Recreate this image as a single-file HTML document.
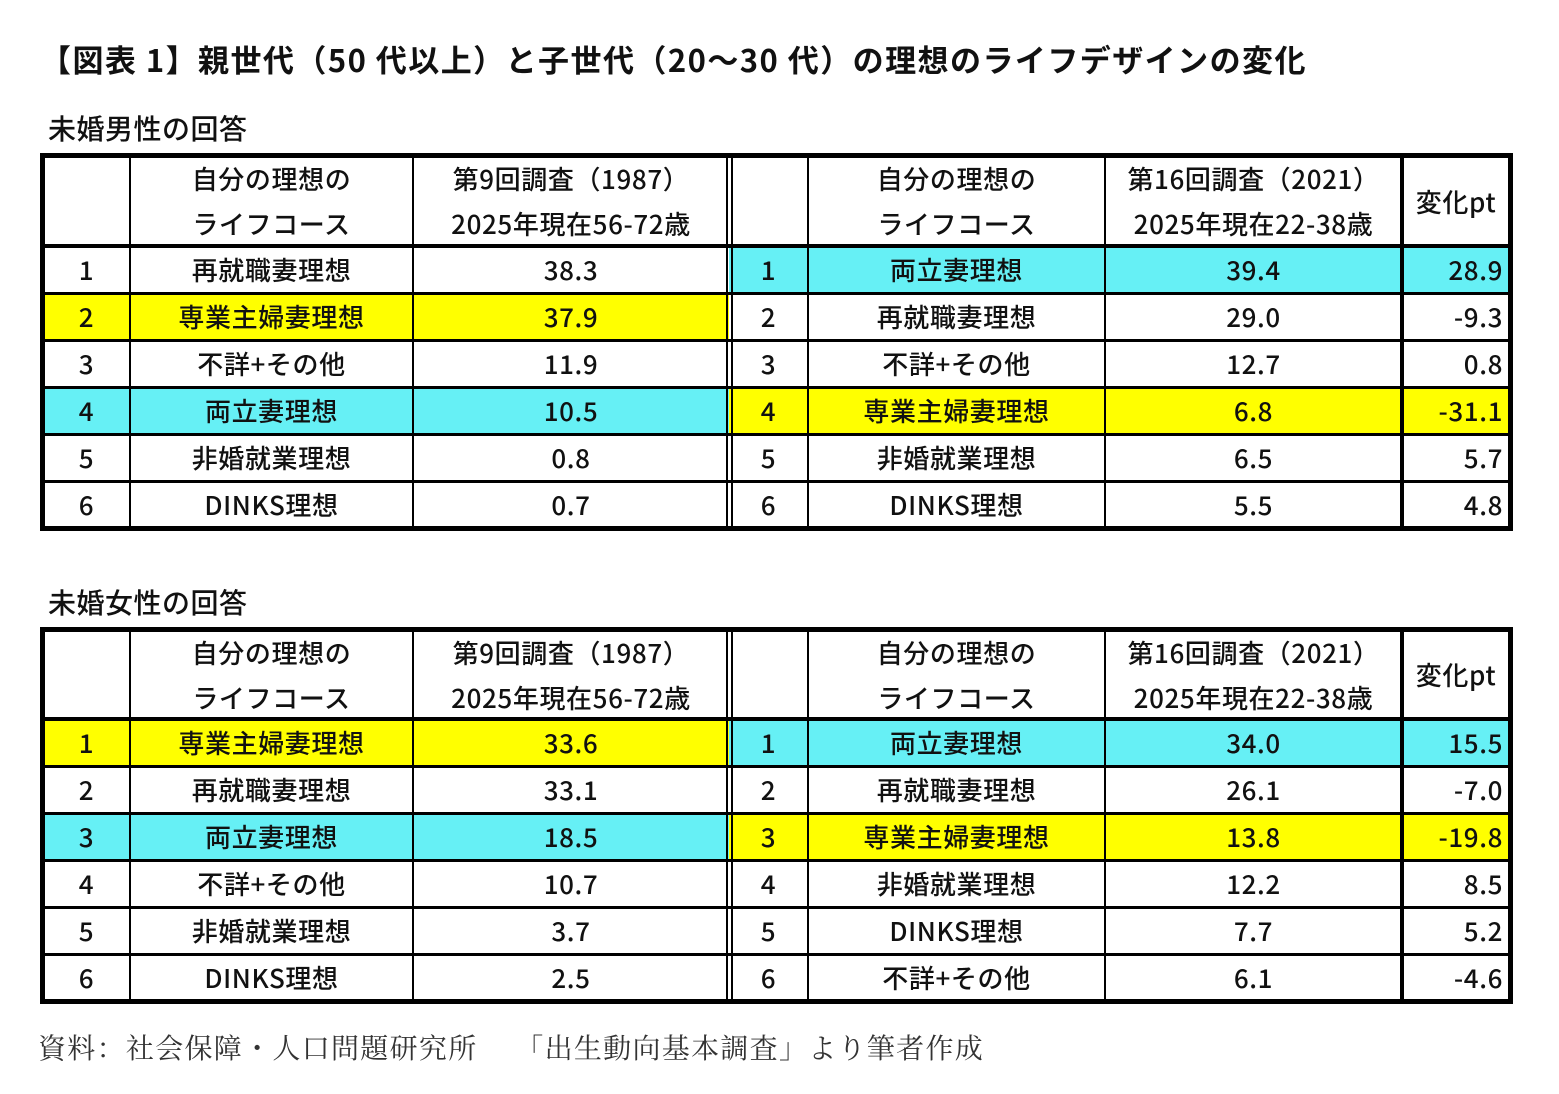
<!DOCTYPE html>
<html><head><meta charset="utf-8">
<style>
body{margin:0;width:1559px;height:1094px;background:#fff;position:relative;overflow:hidden;font-family:"Noto Sans CJK JP","Liberation Sans",sans-serif;color:#111}
.t{position:absolute;white-space:nowrap}
.c{position:absolute;display:flex;align-items:center;justify-content:center;font-size:26px;letter-spacing:0.6px;font-weight:500;box-sizing:border-box}
.ln{position:absolute;background:#000}
</style></head><body>
<div class="t" style="left:40px;top:36px;font-size:31px;font-weight:bold;line-height:46px;letter-spacing:1.45px">【図表 1】親世代（50 代以上）と子世代（20～30 代）の理想のライフデザインの変化</div>
<div class="t" style="left:48px;top:108px;font-size:28px;font-weight:500;line-height:40px;letter-spacing:0.5px">未婚男性の回答</div>
<div class="t" style="left:48px;top:582px;font-size:28px;font-weight:500;line-height:40px;letter-spacing:0.5px">未婚女性の回答</div>
<div class="t" style="left:38px;top:1026px;font-size:28px;line-height:42px;color:#333;letter-spacing:1.3px;font-family:'Noto Serif CJK SC',serif">資料：社会保障・人口問題研究所　 「出生動向基本調査」より筆者作成</div>
<div id="root"></div>
<script>
const maleOldLabels=["再就職妻理想","専業主婦妻理想","不詳+その他","両立妻理想","非婚就業理想","DINKS理想"];
const maleOldValues=["38.3","37.9","11.9","10.5","0.8","0.7"];
const maleNewLabels=["両立妻理想","再就職妻理想","不詳+その他","専業主婦妻理想","非婚就業理想","DINKS理想"];
const maleNewValues=["39.4","29.0","12.7","6.8","6.5","5.5"];
const maleChange=["28.9","-9.3","0.8","-31.1","5.7","4.8"];
const femaleOldLabels=["専業主婦妻理想","再就職妻理想","両立妻理想","不詳+その他","非婚就業理想","DINKS理想"];
const femaleOldValues=["33.6","33.1","18.5","10.7","3.7","2.5"];
const femaleNewLabels=["両立妻理想","再就職妻理想","専業主婦妻理想","非婚就業理想","DINKS理想","不詳+その他"];
const femaleNewValues=["34.0","26.1","13.8","12.2","7.7","6.1"];
const femaleChange=["15.5","-7.0","-19.8","8.5","5.2","-4.6"];

const X=[43,130,413,729,808,1105,1402,1510];
const root=document.getElementById('root');
function colorOf(l){return l==="専業主婦妻理想"?"#ffff00":(l==="両立妻理想"?"#66f0f5":null);}
function cell(x1,y1,x2,y2,txt,bg,align,name){
  const d=document.createElement('div');d.className='c';
  
  
  d.style.left=x1+'px';d.style.top=y1+'px';d.style.width=(x2-x1)+'px';d.style.height=(y2-y1)+'px';
  if(bg)d.style.background=bg;
  if(align==='r'){d.style.justifyContent='flex-end';d.style.paddingRight='7px';}
  d.innerHTML=txt;root.appendChild(d);
}
function line(x,y,w,h){const d=document.createElement('div');d.className='ln';
  
  
  d.style.left=x+'px';d.style.top=y+'px';d.style.width=w+'px';d.style.height=h+'px';root.appendChild(d);}
function table(top,hb,rowH,oldL,oldV,newL,newV,chg,pfx){
  const h2='<div style="text-align:center;line-height:45px">';
  cell(X[1],top,X[2],hb,h2+'自分の理想の<br>ライフコース</div>',null,'c',pfx+'-header-course-old');
  cell(X[2],top,X[3],hb,h2+'第9回調査（1987）<br>2025年現在56-72歳</div>',null,'c',pfx+'-header-1987');
  cell(X[4],top,X[5],hb,h2+'自分の理想の<br>ライフコース</div>',null,'c',pfx+'-header-course-new');
  cell(X[5],top,X[6],hb,h2+'第16回調査（2021）<br>2025年現在22-38歳</div>',null,'c',pfx+'-header-2021');
  cell(X[6],top,X[7],hb,'変化pt',null,'c',pfx+'-header-change');
  for(let i=0;i<6;i++){
    const y1=hb+i*rowH,y2=y1+rowH;
    const b1=colorOf(oldL[i]),b2=colorOf(newL[i]);
    cell(X[0],y1,X[1],y2,String(i+1),b1,'c',pfx+'-old-rank-'+(i+1));
    cell(X[1],y1,X[2],y2,oldL[i],b1,'c',pfx+'-old-label-'+(i+1));
    cell(X[2],y1,X[3],y2,oldV[i],b1,'c',pfx+'-old-value-'+(i+1));
    cell(X[3],y1,X[4],y2,String(i+1),b2,'c',pfx+'-new-rank-'+(i+1));
    cell(X[4],y1,X[5],y2,newL[i],b2,'c',pfx+'-new-label-'+(i+1));
    cell(X[5],y1,X[6],y2,newV[i],b2,'c',pfx+'-new-value-'+(i+1));
    cell(X[6],y1,X[7],y2,chg[i],b2,'r',pfx+'-change-'+(i+1));
    if(i>0)line(X[0],y1-1,X[7]-X[0],3);
  }
  const bot=hb+6*rowH;
  line(X[0],hb-2,X[7]-X[0],4);
  [1,2,4,5].forEach(k=>line(X[k]-1,top,2,bot-top));
  line(726,top,2,bot-top);line(731,top,2,bot-top);
  line(X[6]-2,top,4,bot-top);
  line(X[0]-3,top-3,X[7]-X[0]+6,5);line(X[0]-3,bot-2,X[7]-X[0]+6,5);
  line(X[0]-3,top-3,5,bot-top+4);line(X[7]-2,top-3,5,bot-top+4);
}
table(156,246,47,maleOldLabels,maleOldValues,maleNewLabels,maleNewValues,maleChange,'male');
table(630,719,47,femaleOldLabels,femaleOldValues,femaleNewLabels,femaleNewValues,femaleChange,'female');
</script>
</body></html>
